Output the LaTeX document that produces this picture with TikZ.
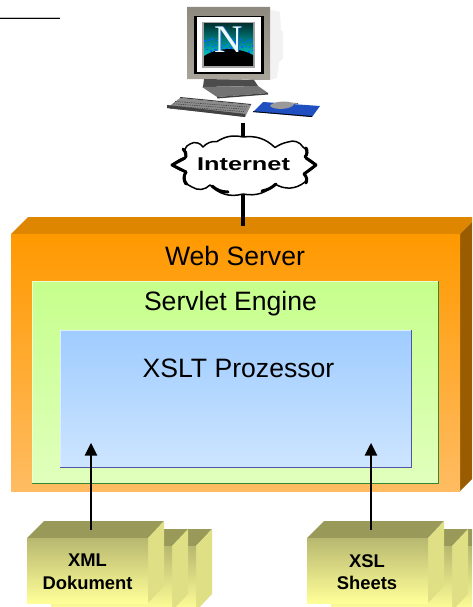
\documentclass[tikz,border=0pt]{standalone}
\usepackage{fontspec}
\setmainfont{Liberation Sans}
\newfontfamily\nfont{Liberation Serif}
\definecolor{orfront}{HTML}{FF9900}
\definecolor{orlow}{HTML}{FFBC62}
\definecolor{ortop}{HTML}{DF8600}
\definecolor{orside}{HTML}{995C00}
\definecolor{grtop}{HTML}{C6FF8C}
\definecolor{grlow}{HTML}{E0FFBC}
\definecolor{bltop}{HTML}{9FCCFF}
\definecolor{bllow}{HTML}{CDE5FF}
\definecolor{bxtop}{HTML}{B8B870}
\definecolor{bxlow}{HTML}{FFFF99}
\definecolor{bxface}{HTML}{999959}
\definecolor{bxside}{HTML}{DFDF85}
\definecolor{bezel}{HTML}{8E8A80}
\definecolor{bezellow}{HTML}{A8A49A}
\definecolor{padblue}{HTML}{1F4FC0}
\tikzset{
  panel/.style={rectangle,draw=none,inner sep=0pt,outer sep=0pt,anchor=north west},
  big/.style={font=\fontsize{26.6}{30}\selectfont,inner sep=0pt},
  doc/.style={font=\bfseries\fontsize{18.4}{22.5}\selectfont,align=center,inner sep=0pt},
  link/.style={black,line width=3.4pt},
  up/.style={black,line width=2pt},
  tiphead/.style={fill=black,draw=none},
  cloudline/.style={black,line width=1.5pt,line join=round,fill=white},
  cloudthick/.style={black,line width=3pt,line cap=round},
}
% #1 = x of front left, #2 = y of front top, #3 = name
\newcommand{\stackbox}[3]{%
  \fill[bxface] (#1,#2) -- ++(17,-17) -- ++(120,0) -- ++(-16,17) -- cycle;
  \fill[bxside] (#1+121,#2) -- ++(16,-17) -- ++(0,65) -- ++(-16,17) -- cycle;
  \node[panel,minimum width=121pt,minimum height=65pt,top color=bxtop,bottom color=bxlow] (#3) at (#1,#2) {};
}
\begin{document}
\begin{tikzpicture}[x=1pt,y=-1pt]
\useasboundingbox (0,0) rectangle (472,607);
\clip (0,0) rectangle (472,607);
\fill[white] (0,0) rectangle (472,607);
% stray rule
\draw[gray!50,line width=.8pt] (0,17.2) -- (60,17.2);
\draw[black,line width=1pt] (0,18.2) -- (60,18.2);

% monitor
\fill[white!90!gray] (268,9) -- (280,12) -- (281,30) -- (283,32) -- (283,58) -- (279,62) -- (277,78) -- (268,80) -- cycle;
\shade[top color=bezel,bottom color=bezellow] (187,7) -- (270,7) -- (270,80) -- (187,79) -- cycle;
\fill[black!70] (204,79) -- (254,80) -- (258,86) -- (203,87) -- cycle;
\fill[black!55] (202,87) -- (258,86) -- (268,93) -- (217,97) -- cycle;
\fill[black!75] (217,97) -- (268,93) -- (268,94.5) -- (217,98.5) -- cycle;
\fill[black] (194,16) rectangle (264,74);
\fill[white] (197,17) rectangle (261,72);
\fill[black!35] (202,22) rectangle (255,68);
\begin{scope}
  \clip (204,24) rectangle (253,66);
  \shade[top color=black!60!teal,bottom color=cyan!70!teal] (204,24) rectangle (253,60);
  \foreach \a in {0,...,70}{
    \pgfmathsetseed{\a+11}
    \pgfmathsetmacro{\px}{204+49*rnd}
    \pgfmathsetmacro{\py}{38+20*rnd}
    \fill[blue!60!cyan] (\px,\py) rectangle ++(1.5,1.5);
  }
  \fill[black] (204,67) -- (204,56) .. controls (218,47) and (238,47) .. (253,55) -- (253,67) -- cycle;
\end{scope}
\node[inner sep=0pt,text=cyan!50!blue,font=\nfont\fontsize{39}{39}\selectfont] (logoshadow) at (230,40) {N};
\node[inner sep=0pt,text=white!92!cyan,font=\nfont\fontsize{39}{39}\selectfont] (logo) at (229,40) {N};

% keyboard
\fill[black!45] (167,108) -- (180,98) -- (251,105) -- (245,117) -- cycle;
\fill[black!75] (167,108) -- (245,117) -- (245,114) -- (167,105) -- cycle;
\foreach \k in {0,1,2,3}{
  \draw[black!70,line width=.7pt,dash pattern=on 1.4pt off .9pt] ({175+\k*-1.5},{101.5+\k*2.3}) -- ({247+\k*-1.5},{107+\k*2.3});
}
\fill[black!75] (180,97) -- (251,104) -- (251,105) -- (180,98) -- cycle;
% mouse pad and mouse
\fill[padblue] (253,112) -- (263,102) -- (320,106) -- (312,117) -- cycle;
\fill[black] (253,112) -- (312,117) -- (312,116) -- (253,111.2) -- cycle;
\draw[black!70,line width=.6pt] (292,103) -- (298,103.5);
\fill[black!40] (270,106) .. controls (272,101) and (290,100) .. (294,104) .. controls (293,109) and (275,111) .. (270,106) -- cycle;

% connectors around the cloud are drawn with named points
\coordinate (pcbottom) at (243,122.5);
\coordinate (srvport) at (243,226);

% orange box
\fill[ortop] (11,234) -- (28,217) -- (477,217) -- (460,234) -- cycle;
\fill[orside] (460,234) -- (477,217) -- (477,474) -- (460,491) -- cycle;
\node[panel,minimum width=449pt,minimum height=257pt,top color=orfront,bottom color=orlow] (web) at (11,234) {};
% green box
\node[panel,minimum width=406.5pt,minimum height=202pt,top color=grtop,bottom color=grlow] (engine) at (32,281) {};
\draw[white!60!grtop,line width=.7pt] (engine.south west) -- (engine.north west) -- (engine.north east);
\draw[black!45!green!60!gray,line width=.8pt] (engine.north east) -- (engine.south east) -- (engine.south west);
% blue box
\node[panel,minimum width=351.5pt,minimum height=137pt,top color=bltop,bottom color=bllow] (xslt) at (60,330) {};
\draw[white!65!bltop,line width=.7pt] (xslt.south west) -- (xslt.north west) -- (xslt.north east);
\draw[blue!35!gray,line width=.8pt] (xslt.north east) -- (xslt.south east) -- (xslt.south west);

\node[big] (weblabel) at (235,255.5) {Web Server};
\node[big] (enginelabel) at (230.5,304) {Servlet Engine};
\node[big] (xsltlabel) at (238.5,368) {XSLT Prozessor};

% document stacks
\stackbox{75}{546}{xmlc}
\stackbox{51}{546}{xmlb}
\stackbox{27}{538}{xmla}
\stackbox{355}{546}{xslc}
\stackbox{331}{546}{xslb}
\stackbox{307}{538}{xsla}
\node[doc] (xmltext) at (87.5,572) {XML\\Dokument};
\node[doc] (xsltext) at (367,572) {XSL\\Sheets};

% arrows
\coordinate (xmlstart) at (91,530);
\coordinate (xmlend) at (91,450);
\coordinate (xmltip) at (91,443);
\coordinate (xslstart) at (371,530);
\coordinate (xslend) at (371,450);
\coordinate (xsltip) at (371,443);
\draw[up] (xmlstart) -- (xmlend);
\draw[up] (xslstart) -- (xslend);
\fill[tiphead] (xmltip) -- ++(6.3,12.5) -- ++(-12.6,0) -- cycle;
\fill[tiphead] (xsltip) -- ++(6.3,12.5) -- ++(-12.6,0) -- cycle;

% cloud
\node[inner sep=0pt,minimum width=140pt,minimum height=54pt] (cloudbox) at (243,165) {};
\draw[link] (pcbottom) -- (cloudbox.north);
\draw[link] (cloudbox.south) -- (srvport);
\draw[cloudline] (275,147.5) to[bend right=25] (243,137) to[bend right=22] (217,141.5) to[bend right=25] (203,147)
  to[bend right=45] (190,144) to[bend right=55] (186,157) to[bend right=10] (172,165)
  to[bend right=10] (186,172) to[bend right=55] (192,187) to[bend right=40] (210,185)
  to[bend right=30] (243,194) to[bend right=28] (275,184) to[bend right=35] (305,182)
  to[bend right=50] (304,174) to[bend right=10] (316,165) to[bend right=10] (305,157)
  to[bend right=55] (303,147) to[bend right=40] (288,142) to[bend right=10] cycle;
\draw[cloudthick] (183,149) to[bend left=30] (186,157);
\draw[cloudthick] (172,165) -- (185,158);
\draw[cloudthick] (172,165) -- (186,172);
\draw[cloudthick] (186,172) to[bend right=35] (186,184);
\draw[cloudthick] (306,148) to[bend left=35] (305,157);
\draw[cloudthick] (316,165) -- (306,158);
\draw[cloudthick] (316,165) -- (304,174);
\draw[cloudthick] (304,174) to[bend left=35] (306,183);
\draw[cloudthick] (212,186) to[bend right=20] (228,192);
\draw[cloudthick] (276,184) to[bend left=15] (262,191);
\node[inner sep=0pt,xscale=1.37,font=\bfseries\fontsize{18.5}{20}\selectfont] (internet) at (243.5,164) {Internet};
\end{tikzpicture}
\end{document}
